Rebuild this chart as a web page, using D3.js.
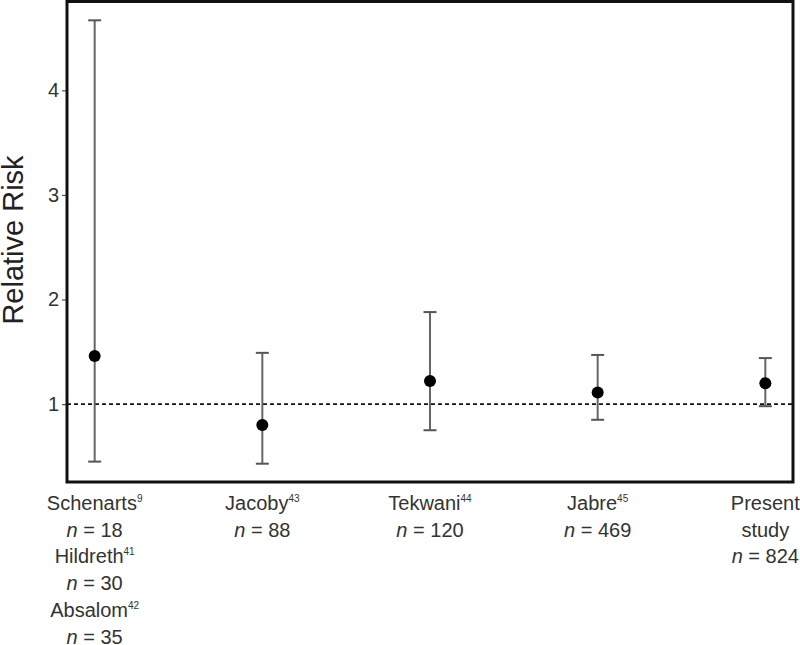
<!DOCTYPE html>
<html><head><meta charset="utf-8">
<script src="https://cdn.jsdelivr.net/npm/d3@7"></script>
<style>body{margin:0;background:#fff}svg{display:block}</style>
</head><body>
<svg id="c" width="800" height="645"></svg>
<script>
const categories = ["Schenarts", "Jacoby", "Tekwani", "Jabre", "Present study"];
const relRisk = [1.46, 0.80, 1.22, 1.11, 1.20];
const lowerCI = [0.45, 0.43, 0.75, 0.85, 0.98];
const upperCI = [4.67, 1.49, 1.88, 1.47, 1.44];
const yTicks = [1, 2, 3, 4];
const refLine = 1;
// x-axis label lines: [text, superscript ref] or ["n", count]
const labelLines = [
  [["Schenarts", "9"], ["n", "18"], ["Hildreth", "41"], ["n", "30"], ["Absalom", "42"], ["n", "35"]],
  [["Jacoby", "43"], ["n", "88"]],
  [["Tekwani", "44"], ["n", "120"]],
  [["Jabre", "45"], ["n", "469"]],
  [["Present", ""], ["study", ""], ["n", "824"]]
];

const svg = d3.select("#c");
const mLeft = 67, mRight = 793, mTop = 1.5, mBottom = 482;
const x = d3.scalePoint().domain(categories).range([mLeft, mRight]).padding(0.165);
const y = d3.scaleLinear().domain([0.255, 4.85]).range([mBottom, mTop]);

// y axis
const yAxis = d3.axisLeft(y).tickValues(yTicks).tickSize(5).tickPadding(3).tickFormat(d3.format("d"));
const ga = svg.append("g").attr("transform", `translate(${mLeft},0)`).call(yAxis);
ga.select(".domain").remove();
ga.selectAll(".tick line").attr("stroke", "#555").attr("stroke-width", 1.2);
ga.selectAll(".tick text").attr("fill", "#333").style("font-family", "Arial, 'Liberation Sans', sans-serif").style("font-size", "20px");

svg.append("text")
  .attr("transform", "translate(23,240) rotate(-90)")
  .attr("text-anchor", "middle")
  .attr("fill", "#222")
  .style("font-family", "Arial, 'Liberation Sans', sans-serif")
  .style("font-size", "29px")
  .text("Relative Risk");

// reference line
svg.append("line")
  .attr("x1", mLeft).attr("x2", mRight)
  .attr("y1", y(refLine)).attr("y2", y(refLine))
  .attr("stroke", "#111").attr("stroke-width", 1.8).attr("stroke-dasharray", "4,3");

// error bars
const g = svg.append("g");
categories.forEach((c, i) => {
  const cx = x(c);
  g.append("line").attr("x1", cx).attr("x2", cx).attr("y1", y(lowerCI[i])).attr("y2", y(upperCI[i]))
    .attr("stroke", "#666").attr("stroke-width", 2);
  [lowerCI[i], upperCI[i]].forEach(v => {
    g.append("line").attr("x1", cx - 6.5).attr("x2", cx + 6.5).attr("y1", y(v)).attr("y2", y(v))
      .attr("stroke", "#555").attr("stroke-width", 2);
  });
  g.append("circle").attr("cx", cx).attr("cy", y(relRisk[i])).attr("r", 6).attr("fill", "#000");
});

// frame
svg.append("rect").attr("x", mLeft).attr("y", mTop).attr("width", mRight - mLeft).attr("height", mBottom - mTop)
  .attr("fill", "none").attr("stroke", "#111").attr("stroke-width", 3);

// x labels
categories.forEach((c, i) => {
  labelLines[i].forEach((ln, j) => {
    const t = svg.append("text")
      .attr("x", x(c)).attr("y", 510 + j * 26.7)
      .attr("text-anchor", "middle")
      .attr("fill", "#333")
      .style("font-family", "Arial, 'Liberation Sans', sans-serif")
      .style("font-size", "20px");
    if (ln[0] === "n") {
      t.append("tspan").style("font-style", "italic").text("n");
      t.append("tspan").text(" = " + ln[1]);
    } else {
      t.append("tspan").text(ln[0]);
      if (ln[1]) t.append("tspan").attr("dy", -8).style("font-size", "10px").text(ln[1]);
    }
  });
});
</script>
</body></html>
